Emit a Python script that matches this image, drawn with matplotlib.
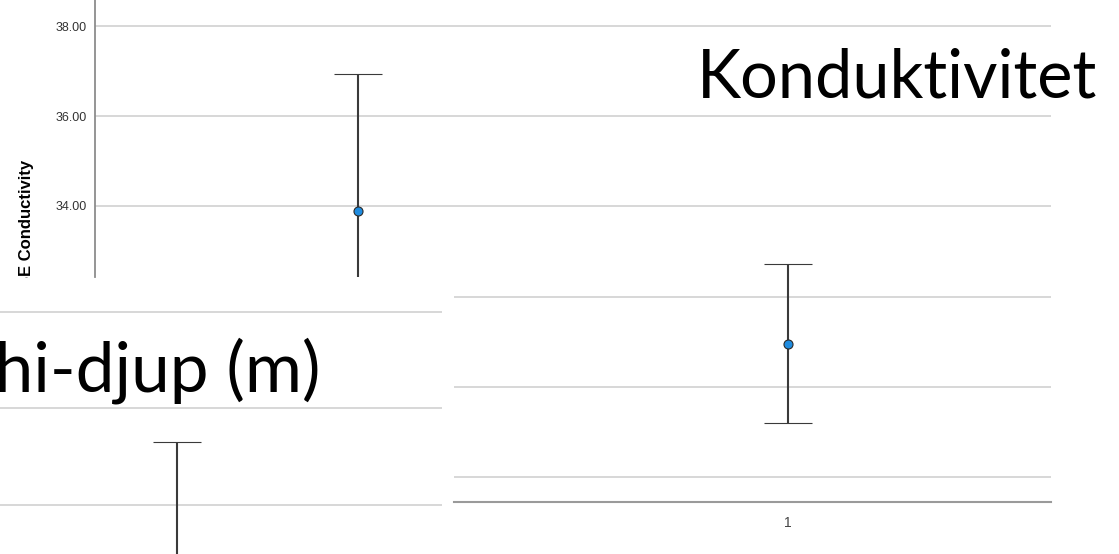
import matplotlib.pyplot as plt

# overlapping slide pieces: Conductivity chart on top, Secchi-depth chart
# bottom left, a third error bar chart bottom right
groups = [1]

cond_mean = [33.89]
cond_upper = [36.93]
cond_lower = [30.85]
cond_ticks = [34.0, 36.0, 38.0]

secchi_mean = [2.20]
secchi_upper = [3.65]
secchi_lower = [0.75]
secchi_ticks = [3.0, 4.0, 5.0]

right_mean = [30.96]
right_upper = [32.73]
right_lower = [29.20]
right_ticks = [28.0, 30.0, 32.0]

W, H = 1119, 554
grid_col = '#d4d4d4'
bar_col = '#3a3a3a'
dot_col = '#1f8ce0'


def px_axes(fig, left, top, right, bottom, z):
    # axes from pixel box of the picture
    ax = fig.add_axes([left / W, 1 - bottom / H, (right - left) / W, (bottom - top) / H])
    ax.set_zorder(z)
    ax.set_facecolor('white')
    for s in ax.spines.values():
        s.set_visible(False)
    ax.tick_params(length=0)
    ax.grid(axis='y', color=grid_col, lw=1.3)
    ax.set_axisbelow(True)
    return ax


def err(ax, mean, lower, upper):
    ax.errorbar(groups, mean,
                yerr=[[m - l for m, l in zip(mean, lower)], [u - m for u, m in zip(upper, mean)]],
                fmt='o', ms=6.5, mfc=dot_col, mec='#2a2a2a', mew=0.8,
                ecolor=bar_col, elinewidth=1.5, capsize=17, capthick=1.5, zorder=3)


fig = plt.figure(figsize=(W / 100, H / 100), dpi=100)

# top panel
ax1 = px_axes(fig, 95, 0, 1051, 277, 1)
ax1.spines['left'].set_visible(True)
ax1.spines['left'].set_color('#8c8c8c')
ax1.spines['left'].set_linewidth(1.3)
err(ax1, cond_mean, cond_lower, cond_upper)
ax1.set_yticks(cond_ticks)
ax1.set_yticklabels(['%.2f' % t for t in cond_ticks], fontsize=9, color='#333333',
                    family='Liberation Sans')
ax1.tick_params(axis='y', pad=6)
ax1.set_xticks([])
ax1.set_ylim(32.42, 38.58)
ax1.set_xlim(0.725, 1.725)
fig.text(27 / W, 1 - 160 / H, 'Mean +- 2 SE Conductivity', rotation=90, ha='center', va='top',
         fontsize=12, fontweight='bold', family='Liberation Sans', zorder=0.5)

# bottom left panel
ax2 = px_axes(fig, 0, 278, 442, 554, 2)
err(ax2, secchi_mean, secchi_lower, secchi_upper)
ax2.set_yticks(secchi_ticks)
ax2.set_yticklabels([])
ax2.set_xticks([])
ax2.set_ylim(2.49, 5.35)
ax2.set_xlim(0.6, 1.6)

# bottom right panel
ax3 = px_axes(fig, 454, 250, 1051, 502, 2)
ax3.spines['bottom'].set_visible(True)
ax3.spines['bottom'].set_color('#9a9a9a')
ax3.spines['bottom'].set_linewidth(1.5)
err(ax3, right_mean, right_lower, right_upper)
ax3.set_yticks(right_ticks)
ax3.set_yticklabels([])
ax3.set_xticks(groups)
ax3.set_xticklabels([str(g) for g in groups], fontsize=10, color='#444444',
                    family='Liberation Sans')
ax3.tick_params(axis='x', pad=10)
ax3.set_ylim(27.44, 33.04)
ax3.set_xlim(0.441, 1.441)

# slide titles
fig.text(697 / W, 1 - 98 / H, 'Konduktivitet', ha='left', va='baseline',
         fontsize=48, family='Lato', zorder=5)
fig.text(320 / W, 1 - 392 / H, 'Secchi-djup (m)', ha='right', va='baseline',
         fontsize=50, family='Lato', zorder=5)

fig.savefig('out.png', dpi=100)
